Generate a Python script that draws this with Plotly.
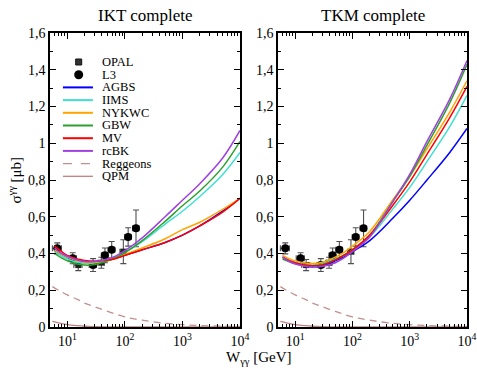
import numpy as np
import plotly.graph_objects as go

# ---------------- data ----------------
W = [6, 8, 10, 15, 20, 30, 50, 70, 100, 200, 500, 1000, 2000, 5000, 10000]

models = ["AGBS", "IIMS", "NYKWC", "GBW", "MV", "rcBK"]
colors = ["#0000ff", "#40e0d0", "#ffa500", "#2ca02c", "#ff0000", "#a040e0"]

ikt_agbs = [0.42, 0.395, 0.38, 0.363, 0.357, 0.356, 0.365, 0.375, 0.39, 0.42, 0.46, 0.50, 0.55, 0.63, 0.70]
ikt_iims = [0.41, 0.385, 0.37, 0.352, 0.346, 0.348, 0.365, 0.38, 0.405, 0.465, 0.56, 0.63, 0.71, 0.83, 0.95]
ikt_nykwc = [0.42, 0.395, 0.38, 0.36, 0.353, 0.352, 0.362, 0.375, 0.395, 0.43, 0.48, 0.53, 0.57, 0.64, 0.70]
ikt_gbw = [0.40, 0.375, 0.36, 0.343, 0.337, 0.34, 0.36, 0.378, 0.405, 0.47, 0.575, 0.66, 0.74, 0.87, 1.01]
ikt_mv = [0.44, 0.41, 0.39, 0.37, 0.362, 0.358, 0.364, 0.373, 0.39, 0.42, 0.46, 0.50, 0.55, 0.625, 0.70]
ikt_rcbk = [0.43, 0.40, 0.385, 0.365, 0.357, 0.356, 0.37, 0.387, 0.415, 0.485, 0.60, 0.69, 0.78, 0.92, 1.07]

tkm_agbs = [0.38, 0.36, 0.35, 0.337, 0.333, 0.337, 0.36, 0.38, 0.41, 0.47, 0.59, 0.69, 0.80, 0.95, 1.08]
tkm_iims = [0.38, 0.36, 0.35, 0.34, 0.338, 0.345, 0.37, 0.39, 0.42, 0.49, 0.64, 0.76, 0.90, 1.09, 1.26]
tkm_nykwc = [0.39, 0.37, 0.36, 0.348, 0.345, 0.352, 0.38, 0.405, 0.44, 0.52, 0.69, 0.82, 0.97, 1.17, 1.34]
tkm_gbw = [0.37, 0.355, 0.345, 0.335, 0.333, 0.34, 0.365, 0.39, 0.42, 0.50, 0.68, 0.82, 0.99, 1.22, 1.43]
tkm_mv = [0.38, 0.36, 0.35, 0.337, 0.333, 0.338, 0.365, 0.39, 0.42, 0.50, 0.66, 0.79, 0.94, 1.14, 1.31]
tkm_rcbk = [0.38, 0.355, 0.343, 0.33, 0.325, 0.33, 0.35, 0.375, 0.41, 0.49, 0.68, 0.83, 1.01, 1.24, 1.45]

ikt_series = [ikt_agbs, ikt_iims, ikt_nykwc, ikt_gbw, ikt_mv, ikt_rcbk]
tkm_series = [tkm_agbs, tkm_iims, tkm_nykwc, tkm_gbw, tkm_mv, tkm_rcbk]

W_reg = [5.5, 7, 10, 15, 20, 30, 50, 100, 200, 500, 1000, 2000, 5000, 10000]
reggeons = [0.22, 0.20, 0.175, 0.15, 0.13, 0.11, 0.085, 0.055, 0.037, 0.02, 0.013, 0.008, 0.005, 0.003]
W_qpm = [5.5, 7, 10, 15, 20, 30, 50, 100, 1000, 10000]
qpm = [0.03, 0.022, 0.013, 0.007, 0.004, 0.002, 0.001, 0.0005, 0.0002, 0.0001]

l3_W = [6.7, 12.4, 28, 45, 59, 114, 156]
l3_sig = [0.428, 0.374, 0.337, 0.39, 0.42, 0.49, 0.537]
l3_err = [0.03, 0.03, 0.035, 0.04, 0.045, 0.05, 0.1]
l3_werr = [1.2, 2.0, 4.0, 6.0, 8.0, 15.0, 20.0]

opal_W = [15.5, 39, 94]
opal_sig = [0.337, 0.35, 0.41]
opal_err = [0.03, 0.03, 0.065]
opal_werr = [2.5, 5.0, 12.0]

legend_names = ["OPAL", "L3"] + models + ["Reggeons", "QPM"]

xtick_vals = [10, 100, 1000, 10000]
xtick_text = ["10<sup>1</sup>", "10<sup>2</sup>", "10<sup>3</sup>", "10<sup>4</sup>"]

titles = ["IKT complete", "TKM complete"]

# ---------------- figure ----------------
FONT = "Liberation Serif"
fig = go.Figure()

XMIN, XMAX = 5, 10000
minor_x = [m * 10 ** k for k in range(0, 5) for m in range(2, 10) if XMIN <= m * 10 ** k <= XMAX]

panels = [("x", "y", "x3", "y3", ikt_series), ("x2", "y2", "x4", "y4", tkm_series)]
for xa, ya, xo, yo, series in panels:
    # background curves drawn on the overlay axes (which carry the minor ticks)
    fig.add_trace(go.Scatter(x=W_reg, y=reggeons, mode="lines", xaxis=xo, yaxis=yo,
                             line=dict(color="#c09090", width=1.3, dash="7px,5px", shape="spline"),
                             showlegend=False))
    fig.add_trace(go.Scatter(x=W_qpm, y=qpm, mode="lines", xaxis=xo, yaxis=yo,
                             line=dict(color="#c08080", width=1.3, shape="spline"),
                             showlegend=False))
    fig.add_trace(go.Scatter(x=opal_W, y=opal_sig, mode="markers", xaxis=xa, yaxis=ya,
                             marker=dict(symbol="square", size=6, color="#222222"),
                             error_y=dict(type="data", array=opal_err, color="#505050", thickness=1.1, width=3),
                             error_x=dict(type="data", array=opal_werr, color="#505050", thickness=1.1, width=3),
                             showlegend=False))
    fig.add_trace(go.Scatter(x=l3_W, y=l3_sig, mode="markers", xaxis=xa, yaxis=ya,
                             marker=dict(symbol="circle", size=8, color="black"),
                             error_y=dict(type="data", array=l3_err, color="#505050", thickness=1.1, width=3),
                             error_x=dict(type="data", array=l3_werr, color="#505050", thickness=1.1, width=3),
                             showlegend=False))
    for name, col, vals in zip(models, colors, series):
        fig.add_trace(go.Scatter(x=W, y=vals, mode="lines", xaxis=xa, yaxis=ya, name=name,
                                 line=dict(color=col, width=1.5, shape="spline"),
                                 showlegend=False))

axis_common = dict(
    showline=True, linecolor="black", linewidth=1.5, mirror="allticks",
    ticks="inside", ticklen=6, tickwidth=1.2, tickcolor="black",
    showgrid=False, zeroline=False, automargin=False,
    tickfont=dict(family=FONT, size=14, color="black"),
)
xcommon = dict(axis_common, type="log", range=[np.log10(XMIN), np.log10(XMAX)],
               tickmode="array", tickvals=xtick_vals, ticktext=xtick_text)
ycommon = dict(axis_common, range=[0, 1.6], dtick=0.2)

xminor = dict(axis_common, type="log", range=[np.log10(XMIN), np.log10(XMAX)],
              tickmode="array", tickvals=minor_x, ticklen=3, tickwidth=1, showticklabels=False)
yminor = dict(axis_common, range=[0, 1.6], tickmode="linear", tick0=0.1, dtick=0.2,
              ticklen=3, tickwidth=1, showticklabels=False)

d1 = [0, 190 / 417]
d2 = [228 / 417, 1]
fig.update_layout(
    width=477, height=372,
    margin=dict(l=50, r=10, t=33, b=45, autoexpand=False),
    paper_bgcolor="white", plot_bgcolor="white",
    separators=",.",
    showlegend=False,
    font=dict(family=FONT, size=13, color="black"),
    xaxis=dict(xcommon, domain=d1, anchor="y"),
    yaxis=dict(ycommon, domain=[0, 1], anchor="x"),
    xaxis2=dict(xcommon, domain=d2, anchor="y2"),
    yaxis2=dict(ycommon, domain=[0, 1], anchor="x2"),
    xaxis3=dict(xminor, domain=d1, anchor="y3", overlaying="x"),
    yaxis3=dict(yminor, domain=[0, 1], anchor="x3", overlaying="y"),
    xaxis4=dict(xminor, domain=d2, anchor="y4", overlaying="x2"),
    yaxis4=dict(yminor, domain=[0, 1], anchor="x4", overlaying="y2"),
)

annotations = []
for i, t in enumerate(titles):
    annotations.append(dict(text=t, xref="x domain" if i == 0 else "x2 domain", yref="paper",
                            x=0.5, y=1, yanchor="bottom", xanchor="center", yshift=6, showarrow=False,
                            font=dict(family=FONT, size=17, color="black")))
annotations.append(dict(text="W<sub>γγ</sub> [GeV]", xref="paper", yref="paper", x=0.5, y=0,
                        xanchor="center", yanchor="top", yshift=-20, showarrow=False,
                        font=dict(family=FONT, size=15, color="black")))
annotations.append(dict(text="σ<sup>γγ</sup> [μb]", xref="paper", yref="paper", x=-0.085, y=0.5,
                        xanchor="center", yanchor="middle", textangle=-90, showarrow=False,
                        font=dict(family=FONT, size=15, color="black")))

# manual legend in the left panel
shapes = []
row0 = 62.0
dy = 12.7
leg_styles = [None, None] + [dict(color=c, width=2) for c in colors] + \
             [dict(color="#c09090", width=1.3, dash="dash"), dict(color="#c08080", width=1.3)]
for i, name in enumerate(legend_names):
    ypix = row0 + dy * i
    yd = (327 - ypix) / 294
    annotations.append(dict(text=name, xref="x domain", yref="y domain", x=0.265, y=yd,
                            xanchor="left", yanchor="middle", showarrow=False,
                            font=dict(family=FONT, size=12.5, color="black")))
    if name == "OPAL":
        shapes.append(dict(type="rect", xref="x domain", yref="y domain",
                           x0=0.151 - 3 / 190, x1=0.151 + 3 / 190, y0=yd - 3 / 294, y1=yd + 3 / 294,
                           fillcolor="#333333", line=dict(color="#111111", width=1)))
    elif name == "L3":
        shapes.append(dict(type="circle", xref="x domain", yref="y domain",
                           x0=0.151 - 4.5 / 190, x1=0.151 + 4.5 / 190, y0=yd - 4.5 / 294, y1=yd + 4.5 / 294,
                           fillcolor="black", line=dict(color="black", width=0)))
    else:
        shapes.append(dict(type="line", xref="x domain", yref="y domain",
                           x0=0.068, x1=0.226, y0=yd, y1=yd, line=leg_styles[i]))

fig.update_layout(annotations=annotations, shapes=shapes)
fig.write_html("out.html", config={"displayModeBar": False},
               post_script="document.body.style.margin='0px';")
